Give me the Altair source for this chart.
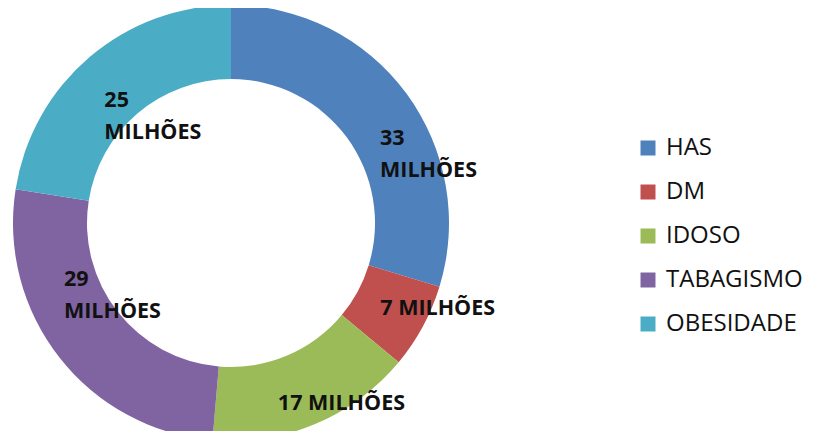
import altair as alt
import pandas as pd

categories = ["HAS", "DM", "IDOSO", "TABAGISMO", "OBESIDADE"]
values = [33, 7, 17, 29, 25]
label_texts = ["33\nMILHÕES", "7 MILHÕES", "17 MILHÕES", "29\nMILHÕES", "25\nMILHÕES"]
colors = ["#4F81BD", "#C0504D", "#9BBB59", "#8064A2", "#4BACC6"]

df = pd.DataFrame({
    "cat": categories,
    "value": values,
    "label": label_texts,
    "idx": list(range(len(categories))),
})
total = sum(values)

# label nudges (style, px) relative to mid-ring position
label_offsets = {
    "HAS": (3.5, 24),
    "DM": (-10, -0.5),
    "IDOSO": (-23, 14),
    "TABAGISMO": (-24.6, -55),
    "OBESIDADE": (-9, 16),
}

CX, CY = 223, 215

base = (
    alt.Chart(df)
    .transform_stack(stack="value", groupby=[], as_=["v0", "v1"],
                     sort=[alt.SortField("idx", order="ascending")])
    .transform_calculate(mid="(datum.v0 + datum.v1) / 2")
)
theta_scale = alt.Scale(domain=[0, total])

arc = base.mark_arc(outerRadius=218, innerRadius=144).encode(
    theta=alt.Theta("v0:Q", scale=theta_scale, stack=False),
    theta2="v1:Q",
    color=alt.Color(
        "cat:N",
        scale=alt.Scale(domain=categories, range=colors),
        sort=categories,
        legend=alt.Legend(
            orient="none", legendX=628, legendY=128, title=None,
            symbolType="square", symbolSize=225, symbolStrokeWidth=0,
            labelFont="Open Sans", labelFontSize=24, labelColor="#111111",
            rowPadding=20, labelOffset=6, padding=0,
        ),
    ),
    x=alt.value(CX),
    y=alt.value(CY),
)

texts = []
for cat in categories:
    dx, dy = label_offsets[cat]
    t = base.transform_filter(alt.datum.cat == cat).mark_text(
        radius=181, align="left", baseline="middle", dx=dx, dy=dy,
        font="Open Sans", fontSize=21.5, fontWeight="bold",
        lineBreak="\n", lineHeight=32, color="#111111",
    ).encode(
        theta=alt.Theta("mid:Q", scale=theta_scale, stack=False),
        text="label:N",
        x=alt.value(CX),
        y=alt.value(CY),
    )
    texts.append(t)

chart = alt.layer(arc, *texts).properties(
    width=799, height=423,
    autosize=alt.AutoSizeParams(type="none"),
    padding=0,
).configure_view(stroke=None)

chart.save("out.html", embed_options={"renderer": "svg", "actions": False})
